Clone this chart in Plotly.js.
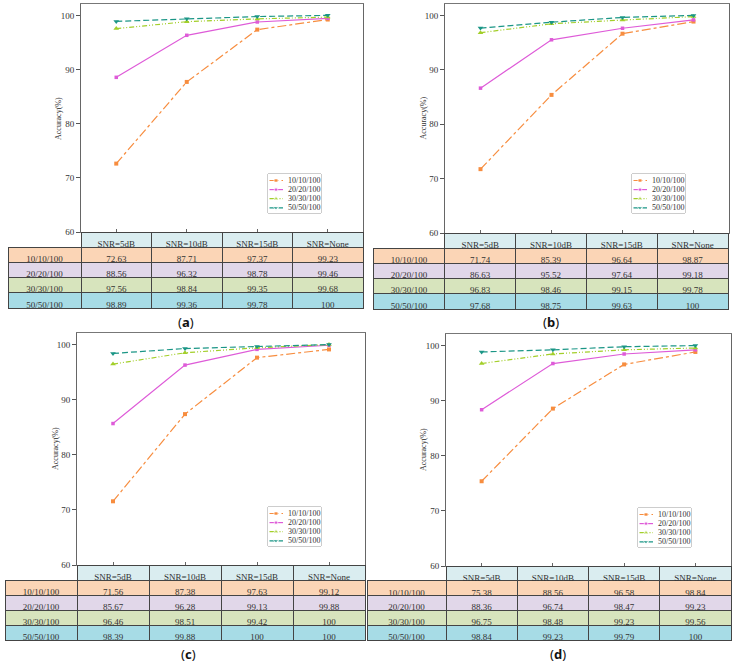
<!DOCTYPE html>
<html><head><meta charset="utf-8">
<script src="https://cdn.plot.ly/plotly-3.0.1.min.js"></script>
<style>html,body{margin:0;padding:0;background:#fff}#chart{width:735px;height:665px}</style>
</head><body><div id="chart"></div>
<script>
// ---------- data ----------
const categories = ['SNR=5dB', 'SNR=10dB', 'SNR=15dB', 'SNR=None'];
const seriesNames = ['10/10/100', '20/20/100', '30/30/100', '50/50/100'];
const panelLabels = ['a', 'b', 'c', 'd'];
const yTicks = [60, 70, 80, 90, 100];

// (a)
const a_10 = [72.63, 87.71, 97.37, 99.23];
const a_20 = [88.56, 96.32, 98.78, 99.46];
const a_30 = [97.56, 98.84, 99.35, 99.68];
const a_50 = [98.89, 99.36, 99.78, 100];
// (b)
const b_10 = [71.74, 85.39, 96.64, 98.87];
const b_20 = [86.63, 95.52, 97.64, 99.18];
const b_30 = [96.83, 98.46, 99.15, 99.78];
const b_50 = [97.68, 98.75, 99.63, 100];
// (c)
const c_10 = [71.56, 87.38, 97.63, 99.12];
const c_20 = [85.67, 96.28, 99.13, 99.88];
const c_30 = [96.46, 98.51, 99.42, 100];
const c_50 = [98.39, 99.88, 100, 100];
// (c) 50/50 curve as it is plotted in the figure (differs from its table text)
const c_50_plotted = [98.39, 99.28, 99.65, 100];
// (d)
const d_10 = [75.38, 88.56, 96.58, 98.84];
const d_20 = [88.36, 96.74, 98.47, 99.23];
const d_30 = [96.75, 98.48, 99.23, 99.56];
const d_50 = [98.84, 99.23, 99.79, 100];

const tableData = [[a_10, a_20, a_30, a_50], [b_10, b_20, b_30, b_50], [c_10, c_20, c_30, c_50], [d_10, d_20, d_30, d_50]];
const plotData = [[a_10, a_20, a_30, a_50], [b_10, b_20, b_30, b_50], [c_10, c_20, c_30, c_50_plotted], [d_10, d_20, d_30, d_50]];

// ---------- styles ----------
const W = 735, H = 665;
const fx = p => p / W, fy = p => 1 - p / H;
const serif = 'Liberation Serif, Times New Roman, serif';
const styles = [
  {color: '#f78d3f', dash: 'dashdot', symbol: 'square', size: 4},
  {color: '#de5bd8', dash: 'solid', symbol: 'square', size: 3.5},
  {color: '#a3cf2a', dash: '5px,2px,1px,2px,1px,2px', symbol: 'triangle-up', size: 5},
  {color: '#1b9686', dash: '6px,3px', symbol: 'triangle-down', size: 5}
];
const rowColors = ['#fbd5b6', '#e1d7e9', '#d7e4bd', '#a7dce6'];
const headColor = '#daedf0';

// panel geometry in px: plot box, table box, caption centre, legend box top-left
const geo = [
  {plot: [81, 363, 4, 232], table: [8, 363, 232, 308], cap: [186, 322], leg: [268, 174], ytitle: 58},
  {plot: [445, 729, 4, 233], table: [373, 729, 233, 309], cap: [551, 322], leg: [632, 174], ytitle: 423},
  {plot: [77, 365, 333, 565], table: [5, 365, 565, 640], cap: [189, 654], leg: [268, 507], ytitle: 55},
  {plot: [446, 731, 334, 566], table: [367, 731, 566, 640], cap: [558, 654], leg: [638, 508], ytitle: 423}
];
const legW = 53, legH = 39;
const legRows = [6.5, 15.6, 24.7, 33.8];
const legSample = [1.5, 8, 15], legTextX = 18;

const traces = [];
const layout = {
  width: W, height: H, margin: {l: 0, r: 0, t: 0, b: 0},
  paper_bgcolor: '#fff', plot_bgcolor: '#fff', showlegend: false,
  font: {family: serif, size: 9, color: '#333'},
  annotations: [], shapes: []
};

geo.forEach((g, i) => {
  const n = i === 0 ? '' : String(i + 1);
  const xa = 'x' + n, ya = 'y' + n;
  const ln = String(i + 5);
  const lxa = 'x' + ln, lya = 'y' + ln;
  plotData[i].forEach((vals, k) => {
    const s = styles[k];
    traces.push({
      type: 'scatter', mode: 'lines+markers', x: categories, y: vals,
      name: seriesNames[k], xaxis: xa, yaxis: ya, showlegend: false,
      line: {color: s.color, dash: s.dash, width: 1.2},
      marker: {color: s.color, symbol: s.symbol, size: s.size},
      cliponaxis: false
    });
    // legend sample
    traces.push({
      type: 'scatter', mode: 'lines+markers', x: legSample, y: legSample.map(() => legRows[k]),
      xaxis: lxa, yaxis: lya, showlegend: false, hoverinfo: 'skip',
      line: {color: s.color, dash: s.dash, width: 1.2},
      marker: {color: s.color, symbol: s.symbol, size: [0, s.size, 0]},
      cliponaxis: false
    });
    layout.annotations.push({
      xref: lxa, yref: lya, x: legTextX, y: legRows[k], xanchor: 'left', yanchor: 'middle',
      showarrow: false, text: seriesNames[k], font: {family: serif, size: 8, color: '#333'}
    });
  });
  layout['xaxis' + n] = {
    domain: [fx(g.plot[0]), fx(g.plot[1])], anchor: ya,
    type: 'category', categoryarray: categories, range: [-0.5, 3.5],
    showticklabels: false, ticks: 'inside', ticklen: 3, tickcolor: '#666',
    showline: true, linecolor: '#777', linewidth: 1, mirror: true,
    showgrid: false, zeroline: false, fixedrange: true
  };
  layout['yaxis' + n] = {
    domain: [fy(g.plot[3]), fy(g.plot[2])], anchor: xa,
    range: [60, 102.1], tickvals: yTicks, ticks: 'outside', ticklen: 4, tickcolor: '#555',
    tickfont: {family: serif, size: 9, color: '#333'},
    showline: true, linecolor: '#666', linewidth: 1, mirror: true,
    showgrid: false, zeroline: false
  };
  // legend mini-axes (hidden)
  layout['xaxis' + ln] = {
    domain: [fx(g.leg[0]), fx(g.leg[0] + legW)], anchor: lya, range: [0, legW], visible: false, fixedrange: true
  };
  layout['yaxis' + ln] = {
    domain: [fy(g.leg[1] + legH), fy(g.leg[1])], anchor: lxa, range: [legH, 0], visible: false, fixedrange: true
  };
  layout.shapes.push({
    type: 'rect', xref: 'paper', yref: 'paper', layer: 'below',
    x0: fx(g.leg[0]), x1: fx(g.leg[0] + legW), y0: fy(g.leg[1] + legH), y1: fy(g.leg[1]),
    line: {color: '#9a9a9a', width: 1}, fillcolor: '#fff'
  });
  // y title
  layout.annotations.push({
    xref: 'paper', yref: 'paper', x: fx(g.ytitle), y: fy((g.plot[2] + g.plot[3]) / 2),
    xanchor: 'center', yanchor: 'middle', textangle: -90, showarrow: false,
    text: 'Accuracy(%)', font: {family: serif, size: 8, color: '#333'}
  });
  // table
  const t = g.table;
  const labelW = g.plot[0] - t[0];
  const colW = (t[1] - g.plot[0]) / 4;
  const rowH = (t[3] - t[2]) / 5;
  const cellCols = [seriesNames];
  for (let c = 0; c < 4; c++) cellCols.push(tableData[i].map(v => String(v[c])));
  traces.push({
    type: 'table',
    domain: {x: [fx(t[0]), fx(t[1])], y: [fy(t[3] + 6), fy(t[2])]},
    columnwidth: [labelW, colW, colW, colW, colW],
    header: {
      values: [''].concat(categories), height: rowH,
      fill: {color: ['rgba(0,0,0,0)', headColor, headColor, headColor, headColor]},
      line: {color: ['rgba(0,0,0,0)', '#444', '#444', '#444', '#444'], width: 1},
      font: {family: serif, size: 9, color: '#333'}, align: 'center'
    },
    cells: {
      values: cellCols, height: rowH,
      fill: {color: [rowColors, rowColors, rowColors, rowColors, rowColors]},
      line: {color: '#444', width: 1},
      font: {family: serif, size: 9, color: '#333'}, align: 'center'
    }
  });
  layout.annotations.push({
    xref: 'paper', yref: 'paper', x: fx(g.cap[0]), y: fy(g.cap[1]),
    xanchor: 'center', yanchor: 'middle', showarrow: false,
    text: '(<b>' + panelLabels[i] + '</b>)',
    font: {family: 'Noto Sans, DejaVu Sans, sans-serif', size: 13, color: '#111'}
  });
});

Plotly.newPlot('chart', traces, layout, {displayModeBar: false, staticPlot: true});
</script>
</body></html>
